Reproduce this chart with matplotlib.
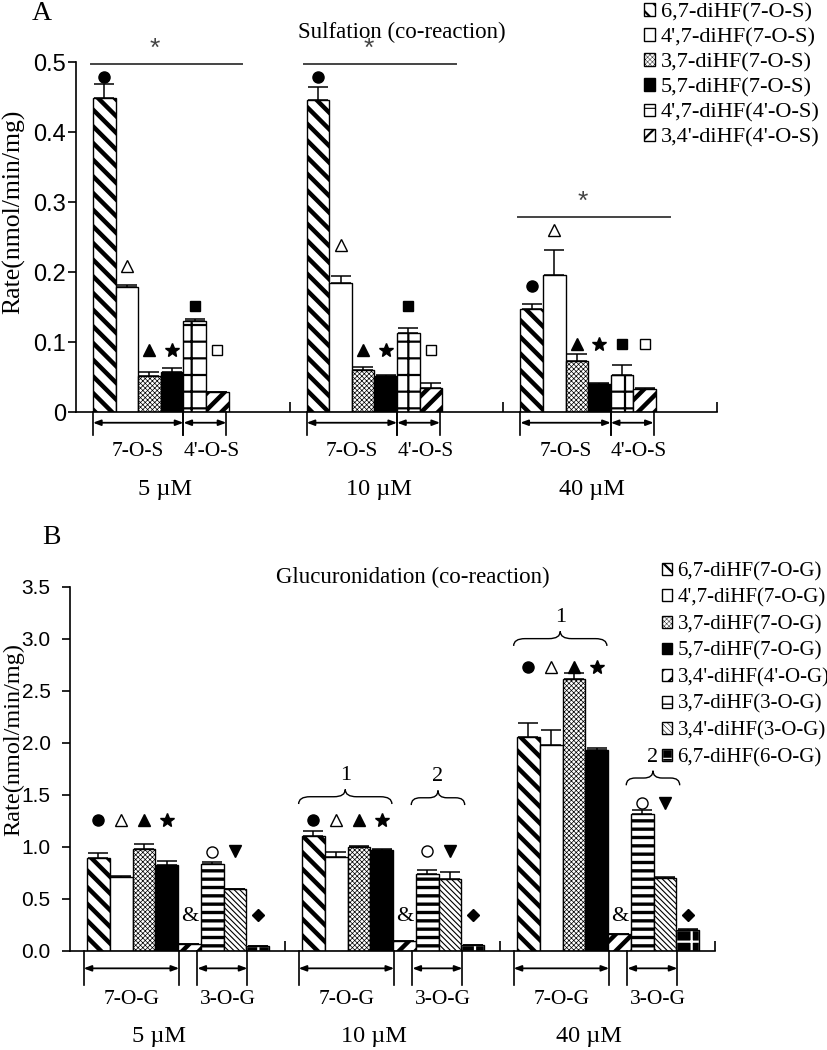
import numpy as np
import matplotlib
matplotlib.use("Agg")
import matplotlib.pyplot as plt
from matplotlib.path import Path
from matplotlib.patches import PathPatch
from matplotlib.ticker import FuncFormatter

plt.rcParams['font.family'] = 'Liberation Serif'
plt.rcParams['hatch.linewidth'] = 1.0

SANS = 'Liberation Sans'
BS = '\\'  # one backslash, for the hatch strings

conc_labels = ['5 \u00b5M', '10 \u00b5M', '40 \u00b5M']

# ---- panel A: sulfation (co-reaction) ----
sulf_names = ["6,7-diHF(7-O-S)", "4',7-diHF(7-O-S)", "3,7-diHF(7-O-S)",
              "5,7-diHF(7-O-S)", "4',7-diHF(4'-O-S)", "3,4'-diHF(4'-O-S)"]
sulf_67 = [0.449, 0.446, 0.147]
sulf_47 = [0.178, 0.184, 0.196]
sulf_37 = [0.051, 0.060, 0.073]
sulf_57 = [0.057, 0.051, 0.040]
sulf_47_4 = [0.130, 0.113, 0.053]
sulf_34_4 = [0.028, 0.035, 0.033]
sulf_67_err = [0.019, 0.019, 0.008]
sulf_47_err = [0.003, 0.011, 0.035]
sulf_37_err = [0.006, 0.005, 0.010]
sulf_57_err = [0.006, 0.002, 0.002]
sulf_47_4_err = [0.003, 0.007, 0.014]
sulf_34_4_err = [0.001, 0.006, 0.001]
# heights of the significance symbols above each series
sulf_sym_y = [[0.479, 0.479, 0.180], [0.209, 0.239, 0.260], [0.088, 0.088, 0.097],
              [0.088, 0.088, 0.097], [0.151, 0.152, 0.097], [0.088, 0.088, 0.097]]
sulf_star_y = [0.497, 0.497, 0.278]
sulf_groups = ['7-O-S', "4'-O-S"]

# ---- panel B: glucuronidation (co-reaction) ----
gluc_names = ["6,7-diHF(7-O-G)", "4',7-diHF(7-O-G)", "3,7-diHF(7-O-G)",
              "5,7-diHF(7-O-G)", "3,4'-diHF(4'-O-G)", "3,7-diHF(3-O-G)",
              "3,4'-diHF(3-O-G)", "6,7-diHF(6-O-G)"]
gluc_67 = [0.888, 1.10, 2.05]
gluc_47 = [0.705, 0.90, 1.98]
gluc_37 = [0.974, 1.00, 2.61]
gluc_57 = [0.827, 0.965, 1.93]
gluc_34_4 = [0.061, 0.09, 0.16]
gluc_37_3 = [0.83, 0.74, 1.31]
gluc_34_3 = [0.59, 0.69, 0.70]
gluc_67_6 = [0.048, 0.055, 0.20]
gluc_67_err = [0.054, 0.05, 0.14]
gluc_47_err = [0.01, 0.05, 0.14]
gluc_37_err = [0.056, 0.01, 0.06]
gluc_57_err = [0.035, 0.01, 0.02]
gluc_34_4_err = [0.005, 0.005, 0.005]
gluc_37_3_err = [0.023, 0.035, 0.04]
gluc_34_3_err = [0.0, 0.07, 0.01]
gluc_67_6_err = [0.0, 0.0, 0.01]
gluc_sym_y = [[1.256, 1.256, 2.73]] * 4 + [[0.333, 0.333, 0.333], [0.95, 0.96, 1.42],
                                            [0.96, 0.96, 1.42], [0.34, 0.34, 0.34]]
gluc_brace1_y = [np.nan, 1.48, 3.0]
gluc_brace2_y = [np.nan, 1.47, 1.66]
gluc_groups = ['7-O-G', '3-O-G']

CAT = 9.45   # width of one concentration block (bar widths)
BAR0 = 0.75  # gap before the first bar of a block

sulf_style = [
    dict(fc='white', hatch=BS * 2, hlw=3.2),
    dict(fc='white', hatch=None, hlw=1.0),
    dict(fc='white', hatch='x' * 7, hlw=0.5),
    dict(fc='black', hatch=None, hlw=1.0),
    dict(fc='white', hatch='+', hlw=1.6),
    dict(fc='white', hatch='//', hlw=3.2),
]
sulf_sym = [('o', 'black'), ('^', 'white'), ('^', 'black'), ('*', 'black'),
            ('s', 'black'), ('s', 'white')]

gluc_style = [
    dict(fc='white', hatch=BS * 2, hlw=3.2),
    dict(fc='white', hatch=None, hlw=1.0),
    dict(fc='white', hatch='x' * 7, hlw=0.5),
    dict(fc='black', hatch=None, hlw=1.0),
    dict(fc='white', hatch='//', hlw=3.2),
    dict(fc='white', hatch='--', hlw=2.4),
    dict(fc='white', hatch=BS * 6, hlw=0.8),
    dict(fc='black', hatch='+', hlw=1.6, hc='white'),
]
gluc_sym = [('o', 'black'), ('^', 'white'), ('^', 'black'), ('*', 'black'),
            ('&', None), ('o', 'white'), ('v', 'black'), ('D', 'black')]

# legend squares are small, so their hatching is drawn thinner
legend_hlw = {BS * 2: 1.6, 'x' * 7: 0.3, '+': 0.8, '//': 1.6, '--': 1.0, BS * 6: 0.4}


def draw_bars(ax, vals, errs, styles):
    handles = []
    for i, (v, e, st) in enumerate(zip(vals, errs, styles)):
        x = np.arange(3) * CAT + BAR0 + i + 0.5
        hc = st.get('hc', 'black')
        bars = ax.bar(x, v, 1.0, color=st['fc'], edgecolor=hc, hatch=st['hatch'],
                      linewidth=1.0, zorder=2)
        for b in bars:
            if hasattr(b, 'set_hatch_linewidth'):
                b.set_hatch_linewidth(st['hlw'])
        h = bars[0]
        if hc != 'black':
            edge = ax.bar(x, v, 1.0, fill=False, edgecolor='black', linewidth=1.0, zorder=3)
            h = (bars[0], edge[0])
        handles.append(h)
        ax.errorbar(x, v, yerr=[np.zeros(3), e], fmt='none', ecolor='black',
                    elinewidth=1.1, capsize=7, capthick=1.1, zorder=4)
    return handles


def thin_legend_hatch(leg):
    for p in leg.get_patches():
        h = p.get_hatch()
        if h in legend_hlw and hasattr(p, 'set_hatch_linewidth'):
            p.set_hatch_linewidth(legend_hlw[h])


def draw_symbols(ax, sym_y, syms):
    for i, (ys, (m, c)) in enumerate(zip(sym_y, syms)):
        x = np.arange(3) * CAT + BAR0 + i + 0.5
        if m == '&':
            for xx, yy in zip(x, ys):
                ax.text(xx, yy, '&', ha='center', va='center', fontsize=16, zorder=5)
            continue
        ms = {'*': 10.5, 's': 7, 'D': 6.5}.get(m, 8)
        ax.plot(x, ys, ls='none', marker=m, ms=ms, mfc=c, mec='black', mew=1.0,
                clip_on=False, zorder=5)


def bracket(ax, x0, x1, ya, yb, label, yl, dx=0.0, fs=15.5):
    for xx in (x0, x1):
        ax.plot([xx, xx], [0, yb], color='black', lw=1.2, clip_on=False)
    ax.annotate('', xy=(x1, ya), xytext=(x0, ya), annotation_clip=False,
                arrowprops=dict(arrowstyle='<|-|>,head_length=0.45,head_width=0.17',
                                color='black', lw=1.3, shrinkA=0, shrinkB=0))
    ax.text((x0 + x1) / 2 + dx, yl, label, ha='center', va='center', fontsize=fs)


def brace(ax, x0, x1, y, d, r):
    xm = (x0 + x1) / 2
    verts = [(x0, y - d), (x0, y), (x0 + r, y), (xm - r, y), (xm, y), (xm, y + d),
             (xm, y), (xm + r, y), (x1 - r, y), (x1, y), (x1, y - d)]
    codes = [Path.MOVETO, Path.CURVE3, Path.CURVE3, Path.LINETO, Path.CURVE3, Path.CURVE3,
             Path.CURVE3, Path.CURVE3, Path.LINETO, Path.CURVE3, Path.CURVE3]
    ax.add_patch(PathPatch(Path(verts, codes), fill=False, lw=1.0, color='black'))


def style_axis(ax, ymax, step, fs, pad, fmt):
    ax.set_xlim(0, 3 * CAT)
    ax.set_ylim(0, ymax)
    for s in ('top', 'right'):
        ax.spines[s].set_visible(False)
    for s in ('left', 'bottom'):
        ax.spines[s].set_linewidth(1.2)
    ax.set_xticks([CAT, 2 * CAT, 3 * CAT])
    ax.set_xticklabels([])
    ax.tick_params(axis='x', direction='in', length=7, width=1.2)
    ax.set_yticks(np.arange(0, ymax + step / 2, step))
    ax.yaxis.set_major_formatter(FuncFormatter(fmt))
    ax.tick_params(axis='y', direction='out', length=6, width=1.2, pad=pad)
    for t in ax.get_yticklabels():
        t.set_fontfamily(SANS)
        t.set_fontsize(fs)


fig = plt.figure(figsize=(8.28, 10.5), dpi=100)

# ================= A =================
axA = fig.add_axes([0.0918, 0.6076, 0.7742, 0.3333])
sulf_vals = [sulf_67, sulf_47, sulf_37, sulf_57, sulf_47_4, sulf_34_4]
sulf_errs = [sulf_67_err, sulf_47_err, sulf_37_err, sulf_57_err, sulf_47_4_err, sulf_34_4_err]
hA = draw_bars(axA, sulf_vals, sulf_errs, sulf_style)
draw_symbols(axA, sulf_sym_y, sulf_sym)
style_axis(axA, 0.5, 0.1, 17, 1, lambda v, _: '0' if abs(v) < 1e-9 else f'{v:.1f}')
axA.set_ylabel('Rate(nmol/min/mg)', fontsize=18.5, va='center')
axA.yaxis.set_label_coords(-0.097, 0.571)

for g in range(3):
    s = g * CAT + BAR0
    axA.plot([s - 0.1, s + 6.6], [sulf_star_y[g]] * 2, color='#444444', lw=1.4, clip_on=False)
    axA.text(s + 2.75, sulf_star_y[g] + 0.022, '*', ha='center', va='center',
             fontsize=19, color='#444444', family=SANS)
    bracket(axA, s, s + 4, -0.0153, -0.033, sulf_groups[0], -0.057)
    bracket(axA, s + 4, s + 5.9, -0.0153, -0.033, sulf_groups[1], -0.057, dx=0.3)
    axA.text(g * CAT + CAT / 2 - 0.8, -0.111, conc_labels[g], ha='center', va='center',
             fontsize=17.5)

fig.text(402 / 828, 1 - 32 / 1050, 'Sulfation (co-reaction)', ha='center', va='center',
         fontsize=16.5)
fig.text(42 / 828, 1 - 14 / 1050, 'A', ha='center', va='center', fontsize=20)
legA = fig.legend(hA, sulf_names, loc='upper left', bbox_to_anchor=(644 / 828, 1 - 3 / 1050),
                  frameon=False, fontsize=16.1, handlelength=0.5, handleheight=0.5,
                  handletextpad=0.25, labelspacing=0.26, borderpad=0, borderaxespad=0)
thin_legend_hatch(legA)

# ================= B =================
axB = fig.add_axes([0.0845, 0.0946, 0.779, 0.3467])
gluc_vals = [gluc_67, gluc_47, gluc_37, gluc_57, gluc_34_4, gluc_37_3, gluc_34_3, gluc_67_6]
gluc_errs = [gluc_67_err, gluc_47_err, gluc_37_err, gluc_57_err, gluc_34_4_err,
             gluc_37_3_err, gluc_34_3_err, gluc_67_6_err]
hB = draw_bars(axB, gluc_vals, gluc_errs, gluc_style)
draw_symbols(axB, gluc_sym_y, gluc_sym)
style_axis(axB, 3.5, 0.5, 15, 8, lambda v, _: f'{v:.1f}')
axB.set_ylabel('Rate(nmol/min/mg)', fontsize=17.5, va='center')
axB.yaxis.set_label_coords(-0.087, 0.579)

for g in range(3):
    s = g * CAT + BAR0
    bracket(axB, s - 0.15, s + 4.05, -0.17, -0.33, gluc_groups[0], -0.474)
    bracket(axB, s + 4.85, s + 7.05, -0.17, -0.33, gluc_groups[1], -0.474, dx=0.25)
    axB.text(g * CAT + CAT / 2 - 0.8, -0.83, conc_labels[g], ha='center', va='center',
             fontsize=17.5)
    if not np.isnan(gluc_brace1_y[g]):
        brace(axB, s - 0.15, s + 3.95, gluc_brace1_y[g], 0.07, 0.5)
        axB.text(s + 1.9, gluc_brace1_y[g] + 0.2, '1', ha='center', va='center', fontsize=16)
        brace(axB, s + 4.8, s + 7.15, gluc_brace2_y[g], 0.07, 0.4)
        axB.text(s + 5.97, gluc_brace2_y[g] + 0.2, '2', ha='center', va='center', fontsize=16)

fig.text(413 / 828, 1 - 577 / 1050, 'Glucuronidation (co-reaction)', ha='center',
         va='center', fontsize=16.5)
fig.text(51 / 828, 1 - 538 / 1050, 'B', ha='center', va='center', fontsize=20)
legB = fig.legend(hB, gluc_names, loc='upper left', bbox_to_anchor=(662 / 828, 1 - 562 / 1050),
                  frameon=False, fontsize=15, handlelength=0.5, handleheight=0.5,
                  handletextpad=0.25, labelspacing=0.35, borderpad=0, borderaxespad=0)
thin_legend_hatch(legB)

fig.savefig('out.png', dpi=100)
